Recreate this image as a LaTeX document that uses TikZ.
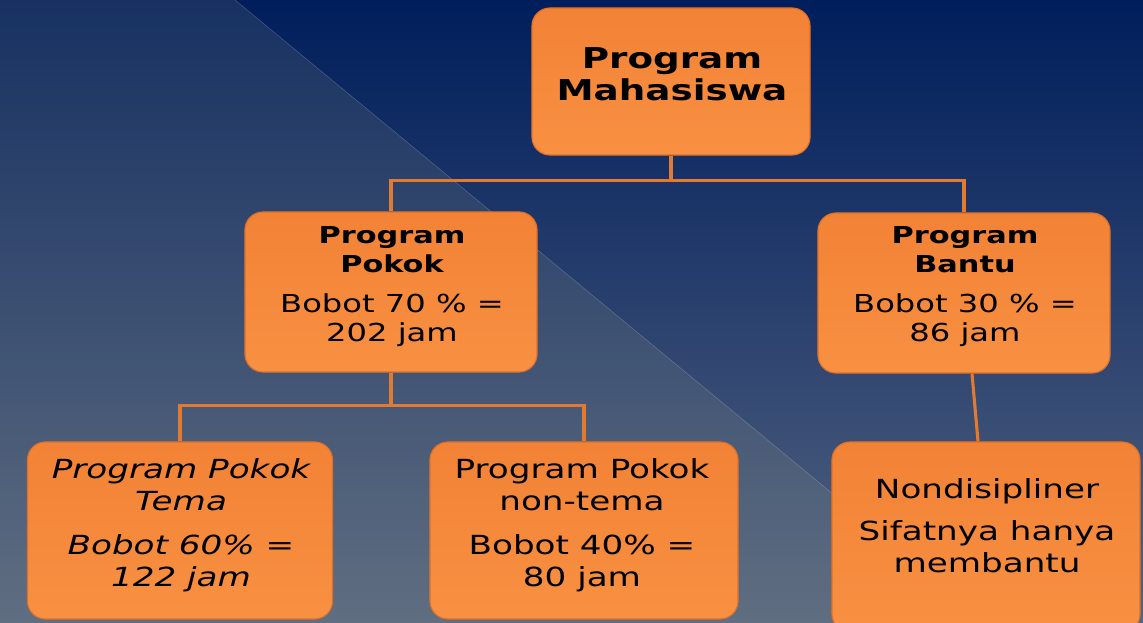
\documentclass[tikz,border=0pt]{standalone}
\usepackage{fontspec}
\setmainfont{DejaVu Sans}[FakeStretch=1.3]
\usetikzlibrary{positioning, calc}
\definecolor{bg top}{RGB}{0,30,92}
\definecolor{bg mid}{RGB}{26,50,102}
\definecolor{bg bottom}{RGB}{84,100,128}
\definecolor{veil}{RGB}{180,180,140}
\definecolor{box top}{RGB}{242,130,54}
\definecolor{box bottom}{RGB}{248,144,66}
\definecolor{box edge}{RGB}{222,112,42}
\definecolor{link col}{RGB}{226,122,48}
\newcommand{\boxhead}[1]{{\fontsize{16.6}{20}\selectfont\bfseries #1}}
\tikzset{
	box/.style={draw=box edge, line width=0.8pt, rounded corners=0.45cm, top color=box top, bottom color=box bottom},
	mid text/.style={align=center, font=\fontsize{17.6}{20.6}\selectfont},
	low text/.style={align=center, font=\fontsize{18.7}{22.8}\selectfont},
	link/.style={draw=link col, line width=2.2pt}
}

\begin{document}
\begin{tikzpicture}[x=0.025cm, y=-0.025cm]
			\useasboundingbox (0,0) rectangle (1143,623);
			\clip (0,0) rectangle (1143,623);
			% background
			\shade[top color=bg top, middle color=bg mid, bottom color=bg bottom] (0,0) rectangle (1143,623);
			\fill[veil, opacity=0.13] (0,0) -- (235,0) -- (989,623) -- (0,623) -- cycle;
			\draw[white, opacity=0.2, line width=0.4pt] (235,0) -- (989,623);
			% boxes
			\path (671,81.5) node[box, minimum width=6.95cm, minimum height=3.675cm] (prog mhs) {};
			\path (391,292) node[box, minimum width=7.3cm, minimum height=4cm] (prog pokok) {};
			\path (964,293) node[box, minimum width=7.3cm, minimum height=4cm] (prog bantu) {};
			\path (180,530.5) node[box, minimum width=7.625cm, minimum height=4.425cm] (pokok tema) {};
			\path (584,530.5) node[box, minimum width=7.7cm, minimum height=4.425cm] (pokok nontema) {};
			\path (986,537) node[box, minimum width=7.7cm, minimum height=4.75cm] (nondis) {};
			% texts
			\path (672,74) node[align=center, font=\fontsize{20.4}{22.7}\selectfont\bfseries] (mhs text) {Program\\Mahasiswa};
			\path (392,286.5) node[mid text] (pokok text) {\boxhead{Program}\\\boxhead{Pokok}\\[7.9pt]Bobot 70 \% =\\202 jam};
			\path (965,286.5) node[mid text] (bantu text) {\boxhead{Program}\\\boxhead{Bantu}\\[7.9pt]Bobot 30 \% =\\86 jam};
			\path (181,525.5) node[low text, font=\fontsize{18.7}{22.8}\selectfont\itshape] (tema text) {Program Pokok\\Tema\\[8.5pt]Bobot 60\% =\\122 jam};
			\path (582,525.5) node[low text] (nontema text) {Program Pokok\\non-tema\\[8.5pt]Bobot 40\% =\\80 jam};
			\path (987,525.5) node[low text] (nondis text) {Nondisipliner\\[7pt]Sifatnya hanya\\membantu};
			% connectors
			\draw[link] (prog mhs.south) -- ++(0,25) -| (prog pokok.north);
			\draw[link] (prog mhs.south) ++(0,25) -| (prog bantu.north);
			\draw[link] (prog pokok.south) -- ++(0,33) -| (pokok tema.north);
			\draw[link] (prog pokok.south) ++(0,33) -| (pokok nontema.north);
			\draw[link] ([xshift=0.2cm]prog bantu.south) -- ([xshift=-0.2cm]nondis.north);
		\end{tikzpicture}
\end{document}
